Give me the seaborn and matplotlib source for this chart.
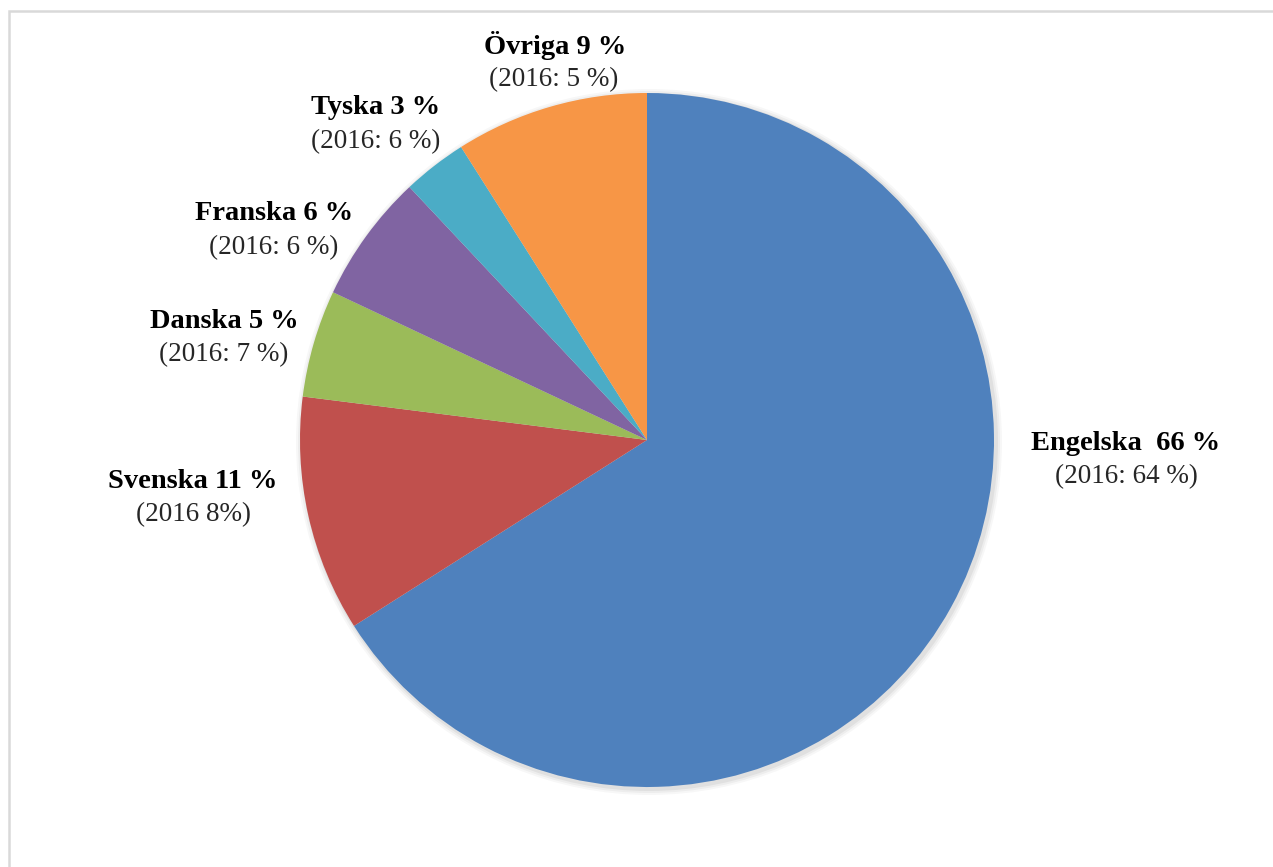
import matplotlib
matplotlib.use("Agg")
import matplotlib.pyplot as plt
import matplotlib.patches as mpatches
import seaborn as sns

# data
languages = ["Engelska", "Svenska", "Danska", "Franska", "Tyska", "Övriga"]
shares = [66, 11, 5, 6, 3, 9]
labels_main = ["Engelska  66 %", "Svenska 11 %", "Danska 5 %", "Franska 6 %", "Tyska 3 %", "Övriga 9 %"]
labels_prev = ["(2016: 64 %)", "(2016 8%)", "(2016: 7 %)", "(2016: 6 %)", "(2016: 6 %)", "(2016: 5 %)"]
colors = ["#4F81BD", "#C0504D", "#9BBB59", "#8064A2", "#4BACC6", "#F79646"]

sns.set_theme(style="white")
plt.rcParams["font.family"] = ["Liberation Serif", "DejaVu Serif"]

W, H = 1273, 867
fig = plt.figure(figsize=(W / 100, H / 100), dpi=100)
ax = fig.add_axes([0, 0, 1, 1])

# frame (open to the right and bottom, like the cropped original)
ax.add_patch(mpatches.Rectangle((9, -10), W + 20, H - 11 + 10, fill=False,
                                edgecolor="#D9D9D9", linewidth=1.8))

cx, cy, r = 647, H - 440, 347

# soft shadow
for i, a in enumerate([0.05, 0.04, 0.03]):
    ax.add_patch(mpatches.Circle((cx + 2, cy - 2), r + 2 + i * 2, color="black",
                                 alpha=a, linewidth=0, zorder=1))

ax.pie(shares, colors=colors, startangle=90, counterclock=False,
       center=(cx, cy), radius=r, frame=True,
       wedgeprops=dict(linewidth=0, zorder=2))
ax.set_xlim(0, W)
ax.set_ylim(0, H)
ax.set_aspect("equal")
ax.axis("off")

# label positions (pixel centers, top-down y)
pos_main = [(1126, 443), (193, 482), (224, 322), (274, 213), (376, 107), (555, 45)]
pos_prev = [(1126, 477), (193, 515), (224, 355), (274, 248), (376, 142), (554, 80)]

for (x, y), t in zip(pos_main, labels_main):
    ax.text(x, H - y, t, ha="center", va="center", fontsize=20.5, fontweight="bold",
            color="#000000")
for (x, y), t in zip(pos_prev, labels_prev):
    ax.text(x, H - y, t, ha="center", va="center", fontsize=19.5, color="#262626")

fig.savefig("out.png", dpi=100)
